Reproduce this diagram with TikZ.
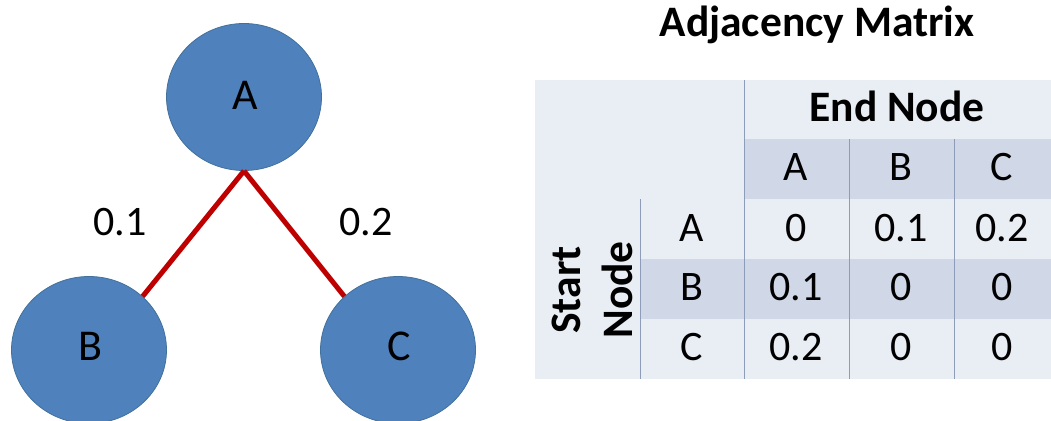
\documentclass[tikz,border=0pt]{standalone}
\usepackage{fontspec}
\setmainfont{Carlito}
\usetikzlibrary{shapes.geometric}
\definecolor{nodeblue}{HTML}{4F81BD}
\definecolor{nodeedge}{HTML}{41719C}
\definecolor{edgered}{HTML}{BE0000}
\definecolor{tablelight}{HTML}{E9EDF4}
\definecolor{tableband}{HTML}{D0D8E8}
\definecolor{tableline}{HTML}{8D9CB8}
\tikzset{
  vertex/.style={ellipse, draw=nodeedge, line width=0.8pt, fill=nodeblue,
    minimum width=155pt, minimum height=147pt, inner sep=0pt},
  vlabel/.style={anchor=base, inner sep=0pt, font=\fontsize{44}{44}\selectfont},
  link/.style={draw=edgered, line width=5pt},
  weight/.style={anchor=base, font=\fontsize{42}{42}\selectfont, inner sep=0pt},
  cell/.style={anchor=base, font=\fontsize{42}{42}\selectfont, inner sep=0pt},
  head/.style={anchor=base, font=\bfseries\fontsize{43.5}{43.5}\selectfont, inner sep=0pt},
  grid/.style={draw=tableline, line width=0.7pt}
}
\begin{document}
\begin{tikzpicture}[x=1pt, y=-1pt]
\useasboundingbox (0,0) rectangle (1051,420);

% graph
\node[vertex] (A) at (244,97) {};
\node[vertex] (B) at (89,350) {};
\node[vertex] (C) at (398,350) {};
\node[vlabel] (labA) at (245,109) {A};
\node[vlabel] (labB) at (90,360) {B};
\node[vlabel] (labC) at (399,360) {C};
\draw[link] (A.south) -- (B.45);
\draw[link] (A.south) -- (C.135);
\node[weight] (wab) at (120,235) {0.1};
\node[weight] (wac) at (366,235) {0.2};

% adjacency matrix
\node[head, font=\bfseries\fontsize{43.5}{43.5}\selectfont] (title) at (817,37) {Adjacency Matrix};
\fill[tablelight] (535,80) rectangle (1051,379);
\fill[tableband] (744,139) rectangle (1051,199);
\fill[tableband] (640,259) rectangle (1051,319);
\draw[grid] (640,199) -- (640,379);
\draw[grid] (744,80) -- (744,379);
\draw[grid] (849,139) -- (849,379);
\draw[grid] (954,139) -- (954,379);

\node[head] (endnode) at (897,121) {End Node};
\node[head, rotate=90] (startlbl) at (580,290) {Start};
\node[head, rotate=90] (nodelbl) at (632,290) {Node};

\node[cell] (cA) at (796,180) {A};
\node[cell] (cB) at (901,180) {B};
\node[cell] (cC) at (1002,180) {C};
\node[cell] (rA) at (692,241) {A};
\node[cell] (rB) at (692,300) {B};
\node[cell] (rC) at (692,360) {C};

\node[cell] (aa) at (796,241) {0};
\node[cell] (ab) at (901,241) {0.1};
\node[cell] (ac) at (1002,241) {0.2};
\node[cell] (ba) at (796,300) {0.1};
\node[cell] (bb) at (901,300) {0};
\node[cell] (bc) at (1002,300) {0};
\node[cell] (ca) at (796,360) {0.2};
\node[cell] (cb) at (901,360) {0};
\node[cell] (cc) at (1002,360) {0};
\end{tikzpicture}
\end{document}
